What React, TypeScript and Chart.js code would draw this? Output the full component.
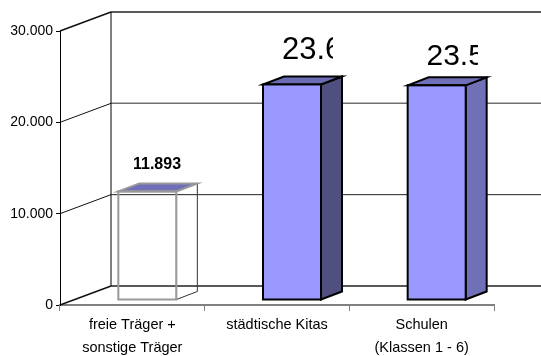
import React, { useEffect, useRef } from "react";
import { Chart, registerables } from "chart.js";

Chart.register(...registerables);

const categories = [
  ["freie Träger +", "sonstige Träger"],
  "städtische Kitas",
  ["Schulen", "(Klassen 1 - 6)"],
];
const values = [11893, 23600, 23500];
const valueLabels = ["11.893", "23.6", "23.5"];
const yTicks = [0, 10000, 20000, 30000];

const FONT = '"Liberation Sans", Arial, sans-serif';

// Depth of the plot box and of each bar, in canvas pixels.
const WALL_DX = 51;
const WALL_DY = -19;
const BAR_SHIFT_X = 15;
const BAR_SHIFT_Y = -5;
const BAR_DX = 21;
const BAR_DY = -8;

const sideColors = ["rgba(0,0,0,0)", "#4f4f80", "#7070b8"];
const topColors = ["#7070b8", "#6c6cb4", "#7070b8"];
const edgeColors = ["#999999", "#000000", "#000000"];
const labelStyles = [
  { size: 16, weight: "bold", gap: 14.5, left: 133, clipRight: 190 },
  { size: 31, weight: "normal", gap: 17, left: 282, clipRight: 333 },
  { size: 30, weight: "normal", gap: 12, left: 426.5, clipRight: 478 },
];

const boxPlugin = {
  id: "box3d",
  beforeDatasetsDraw(chart: any) {
    const { ctx, scales } = chart;
    const y = scales.y;
    const x = scales.x;
    const left = x.left;
    const right = x.right;
    ctx.save();
    ctx.lineCap = "butt";
    yTicks.forEach((t) => {
      const py = y.getPixelForValue(t);
      const heavy = t === 30000 || t === 0;
      ctx.strokeStyle = "#111111";
      ctx.lineWidth = heavy ? 1.5 : 1;
      ctx.beginPath();
      ctx.moveTo(left, py);
      ctx.lineTo(left + WALL_DX, py + WALL_DY);
      ctx.stroke();
      ctx.strokeStyle = t === 20000 ? "#707070" : "#222222";
      ctx.lineWidth = heavy || t === 20000 ? 1.5 : 1;
      ctx.beginPath();
      ctx.moveTo(left + WALL_DX, py + WALL_DY);
      ctx.lineTo(right + WALL_DX, py + WALL_DY);
      ctx.stroke();
    });
    ctx.strokeStyle = "#000000";
    ctx.lineWidth = 1;
    ctx.beginPath();
    ctx.moveTo(left + WALL_DX, y.getPixelForValue(30000) + WALL_DY);
    ctx.lineTo(left + WALL_DX, y.getPixelForValue(0) + WALL_DY);
    ctx.stroke();
    ctx.restore();
  },
  beforeDatasetDraw(chart: any) {
    const { ctx } = chart;
    const meta = chart.getDatasetMeta(0);
    ctx.save();
    ctx.translate(BAR_SHIFT_X, BAR_SHIFT_Y);
    // Side and top faces sit behind the front face of every bar.
    meta.data.forEach((bar: any, i: number) => {
      const r = bar.x + bar.width / 2;
      const l = bar.x - bar.width / 2;
      ctx.lineJoin = "miter";
      ctx.strokeStyle = i === 0 ? "#333333" : edgeColors[i];
      ctx.lineWidth = i === 0 ? 1 : 2;
      ctx.fillStyle = sideColors[i];
      ctx.beginPath();
      ctx.moveTo(r, bar.y);
      ctx.lineTo(r + BAR_DX, bar.y + BAR_DY);
      ctx.lineTo(r + BAR_DX, bar.base + BAR_DY);
      ctx.lineTo(r, bar.base);
      ctx.closePath();
      ctx.fill();
      ctx.stroke();
      ctx.strokeStyle = edgeColors[i];
      ctx.lineWidth = 2;
      ctx.fillStyle = topColors[i];
      ctx.beginPath();
      ctx.moveTo(l, bar.y);
      ctx.lineTo(l + BAR_DX, bar.y + BAR_DY);
      ctx.lineTo(r + BAR_DX, bar.y + BAR_DY);
      ctx.lineTo(r, bar.y);
      ctx.closePath();
      ctx.fill();
      ctx.stroke();
    });
  },
  afterDatasetDraw(chart: any) {
    const { ctx } = chart;
    // Outline of each front face, centred on the edges of the bar.
    chart.getDatasetMeta(0).data.forEach((bar: any, i: number) => {
      ctx.strokeStyle = edgeColors[i];
      ctx.lineWidth = 2;
      ctx.strokeRect(bar.x - bar.width / 2, bar.y, bar.width, bar.base - bar.y);
    });
    ctx.restore();
  },
  afterDatasetsDraw(chart: any) {
    const { ctx } = chart;
    const meta = chart.getDatasetMeta(0);
    meta.data.forEach((bar: any, i: number) => {
      const s = labelStyles[i];
      const base = bar.y + BAR_SHIFT_Y + BAR_DY - s.gap;
      ctx.save();
      ctx.font = `${s.weight} ${s.size}px ${FONT}`;
      ctx.fillStyle = "#000000";
      ctx.textBaseline = "alphabetic";
      ctx.textAlign = "left";
      // The large labels are cut off by a narrow text box on their right.
      ctx.beginPath();
      ctx.rect(s.left - 2, base - s.size, s.clipRight - s.left + 2, s.size * 1.4);
      ctx.clip();
      ctx.fillText(valueLabels[i], s.left, base);
      ctx.restore();
    });
  },
};

export default function App() {
  const ref = useRef<HTMLCanvasElement>(null);
  useEffect(() => {
    const chart = new Chart(ref.current!, {
      type: "bar",
      data: {
        labels: categories,
        datasets: [
          {
            data: values,
            barThickness: 58,
            backgroundColor: ["rgba(0,0,0,0)", "#9999ff", "#9999ff"],
            borderWidth: 0,
            clip: false,
          },
        ],
      },
      plugins: [boxPlugin],
      options: {
        responsive: false,
        animation: false,
        layout: { padding: { top: 31, right: 47, left: 0, bottom: 0 } },
        plugins: { legend: { display: false }, tooltip: { enabled: false } },
        scales: {
          x: {
            afterFit(s: any) {
              s.height = 51;
            },
            grid: { drawOnChartArea: false, color: "#808080", tickLength: 6, lineWidth: 1 },
            border: { color: "#808080", width: 2 },
            ticks: {
              color: "#000000",
              font: { family: FONT, size: 14.5, lineHeight: "23.5px" },
              maxRotation: 0,
              padding: 2,
            },
          },
          y: {
            min: 0,
            max: 30000,
            afterFit(s: any) {
              s.width = 60;
            },
            afterBuildTicks(s: any) {
              s.ticks = yTicks.map((value) => ({ value }));
            },
            grid: { drawOnChartArea: false, color: "#000000", tickLength: 4 },
            border: { color: "#000000", width: 1 },
            ticks: {
              color: "#000000",
              padding: 3,
              font: { family: FONT, size: 14 },
              callback: (v: any) => (v === 0 ? "0" : `${v / 1000}.000`),
            },
          },
        },
      },
    } as any);
    return () => chart.destroy();
  }, []);
  return (
    <div style={{ position: "absolute", left: 0, top: 0, width: 541, height: 356, background: "#ffffff" }}>
      <canvas ref={ref} width={541} height={356} style={{ display: "block" }} />
    </div>
  );
}
